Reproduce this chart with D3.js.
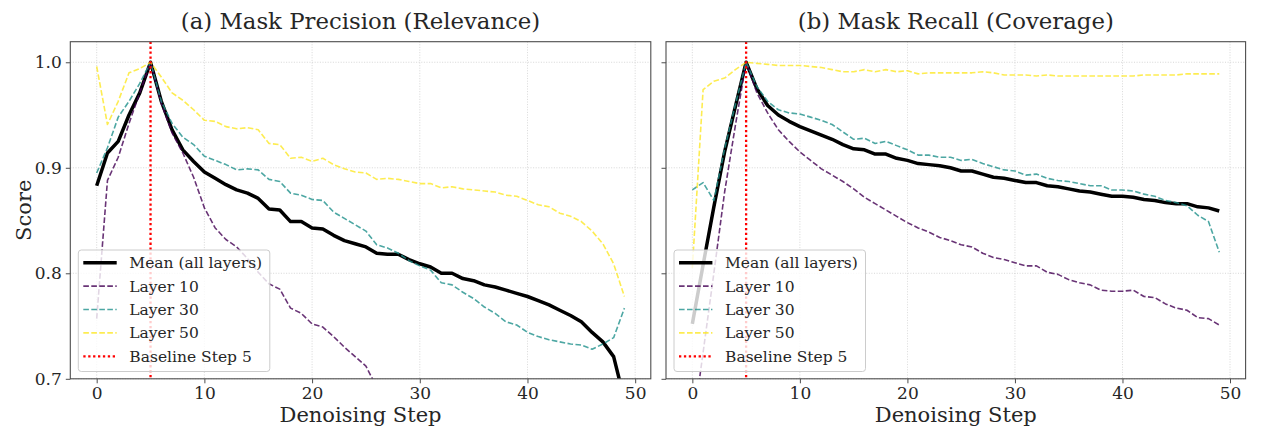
<!DOCTYPE html>
<html><head><meta charset="utf-8">
<script src="https://cdn.jsdelivr.net/npm/d3@7"></script>
<style>body{margin:0;background:#fff;} svg{display:block;font-family:"DejaVu Serif",serif;}</style>
</head><body>
<svg id="chart" width="1267" height="443"></svg>
<script>
// ---------- data ----------
const steps = [0,1,2,3,4,5,6,7,8,9,10,11,12,13,14,15,16,17,18,19,20,21,22,23,24,25,26,27,28,29,30,31,32,33,34,35,36,37,38,39,40,41,42,43,44,45,46,47,48,49];
const panelTitles = ["(a) Mask Precision (Relevance)", "(b) Mask Recall (Coverage)"];
const seriesNames = ["Mean (all layers)", "Layer 10", "Layer 30", "Layer 50"];
const baselineLabel = "Baseline Step 5";
const baselineStep = 5;
const xTicks = [0,10,20,30,40,50];
const yTicks = [0.7,0.8,0.9,1.0];
const yTickLabels = ["0.7","0.8","0.9","1.0"];

const precisionMean = [0.883,0.914,0.925,0.950,0.971,1.000,0.963,0.936,0.917,0.906,0.896,0.890,0.884,0.879,0.876,0.871,0.861,0.860,0.849,0.849,0.843,0.842,0.836,0.831,0.828,0.825,0.819,0.818,0.818,0.813,0.809,0.806,0.800,0.800,0.795,0.793,0.789,0.787,0.784,0.781,0.778,0.774,0.770,0.765,0.760,0.754,0.744,0.735,0.721,0.680];
const precisionL10 = [0.757,0.888,0.910,0.942,0.971,1.000,0.961,0.933,0.914,0.891,0.862,0.843,0.832,0.825,0.814,0.801,0.790,0.785,0.767,0.762,0.752,0.749,0.740,0.730,0.721,0.712,0.692];
const precisionL30 = [0.895,0.919,0.948,0.963,0.980,1.000,0.963,0.942,0.929,0.922,0.911,0.907,0.903,0.898,0.899,0.898,0.889,0.887,0.876,0.874,0.870,0.869,0.858,0.852,0.846,0.840,0.827,0.824,0.819,0.812,0.807,0.803,0.791,0.789,0.782,0.776,0.768,0.762,0.754,0.751,0.744,0.740,0.737,0.735,0.733,0.732,0.728,0.733,0.739,0.767];
const precisionL50 = [0.996,0.941,0.963,0.990,0.994,1.000,0.986,0.971,0.964,0.955,0.945,0.944,0.939,0.937,0.938,0.936,0.923,0.922,0.909,0.910,0.906,0.909,0.903,0.899,0.896,0.895,0.889,0.890,0.889,0.887,0.885,0.885,0.881,0.882,0.880,0.879,0.878,0.877,0.874,0.873,0.869,0.865,0.863,0.857,0.854,0.849,0.840,0.828,0.809,0.778];

const recallMean = [0.752,0.808,0.863,0.915,0.958,1.000,0.975,0.959,0.950,0.944,0.939,0.935,0.931,0.927,0.922,0.918,0.917,0.913,0.913,0.909,0.907,0.904,0.903,0.902,0.900,0.897,0.897,0.894,0.891,0.890,0.888,0.886,0.886,0.883,0.882,0.880,0.878,0.877,0.875,0.873,0.873,0.872,0.870,0.869,0.867,0.866,0.866,0.863,0.862,0.859];
const recallL10 = [0.650,0.725,0.800,0.877,0.940,1.000,0.971,0.952,0.936,0.925,0.915,0.907,0.899,0.893,0.887,0.880,0.872,0.866,0.860,0.854,0.848,0.843,0.839,0.834,0.831,0.827,0.825,0.819,0.815,0.813,0.810,0.807,0.807,0.801,0.799,0.794,0.791,0.789,0.784,0.783,0.783,0.784,0.778,0.777,0.771,0.767,0.765,0.758,0.757,0.751];
const recallL30 = [0.879,0.886,0.869,0.918,0.960,1.000,0.977,0.963,0.955,0.952,0.951,0.948,0.945,0.941,0.934,0.927,0.928,0.923,0.925,0.921,0.917,0.912,0.912,0.910,0.910,0.907,0.908,0.904,0.901,0.898,0.897,0.893,0.894,0.890,0.888,0.887,0.885,0.883,0.883,0.879,0.879,0.878,0.875,0.873,0.869,0.867,0.864,0.855,0.849,0.820];
const recallL50 = [0.805,0.974,0.982,0.985,0.993,1.000,0.999,0.998,0.997,0.997,0.997,0.996,0.995,0.993,0.991,0.991,0.993,0.991,0.993,0.991,0.992,0.989,0.990,0.990,0.990,0.990,0.990,0.991,0.990,0.988,0.988,0.988,0.987,0.988,0.987,0.987,0.987,0.987,0.987,0.987,0.987,0.987,0.988,0.988,0.988,0.988,0.989,0.989,0.989,0.989];

// ---------- styles ----------
const styles = [
  {color:"#000000", width:3.5, dash:null, opacity:1},
  {color:"#440154", width:1.6, dash:"5.6,2.4", opacity:0.8},
  {color:"#21918c", width:1.6, dash:"5.6,2.4", opacity:0.8},
  {color:"#fde725", width:1.6, dash:"5.6,2.4", opacity:0.8}
];
const panels = [
  {title:panelTitles[0], series:[precisionMean,precisionL10,precisionL30,precisionL50], x0:70.3, x1:650.8, yLabels:true},
  {title:panelTitles[1], series:[recallMean,recallL10,recallL30,recallL50], x0:666, x1:1245.6, yLabels:false}
];
const yTop = 41.7, yBottom = 378.8;
const svg = d3.select("#chart");
const textColor = "#262626", spineColor = "#4d4d4d";

panels.forEach((p, pi) => {
  const x = d3.scaleLinear().domain([-2.45, 51.45]).range([p.x0, p.x1]);
  const y = d3.scaleLinear().domain([0.7, 1.0195]).range([yBottom, yTop]);
  const g = svg.append("g");
  const clipId = "clip" + pi;
  svg.append("defs").append("clipPath").attr("id", clipId)
    .append("rect").attr("x", p.x0).attr("y", yTop).attr("width", p.x1 - p.x0).attr("height", yBottom - yTop);

  // grid
  const grid = g.append("g");
  grid.selectAll("line.vx").data(xTicks).join("line")
    .attr("x1", d => x(d)).attr("x2", d => x(d)).attr("y1", yTop).attr("y2", yBottom)
    .attr("stroke", "#b0b0b0").attr("stroke-width", 0.8).attr("stroke-dasharray", "1,1.6").attr("opacity", 0.6);
  grid.selectAll("line.hy").data(yTicks).join("line")
    .attr("x1", p.x0).attr("x2", p.x1).attr("y1", d => y(d)).attr("y2", d => y(d))
    .attr("stroke", "#b0b0b0").attr("stroke-width", 0.8).attr("stroke-dasharray", "1,1.6").attr("opacity", 0.6);

  // lines
  const plot = g.append("g").attr("clip-path", `url(#${clipId})`);
  const line = d3.line().x((d, i) => x(steps[i])).y(d => y(d));
  p.series.forEach((s, si) => {
    const st = styles[si];
    plot.append("path").datum(s).attr("d", line)
      .attr("fill", "none").attr("stroke", st.color).attr("stroke-width", st.width)
      .attr("stroke-opacity", st.opacity)
      .attr("stroke-linejoin", "round")
      .attr("stroke-dasharray", st.dash);
  });
  // baseline
  plot.append("line").attr("x1", x(baselineStep)).attr("x2", x(baselineStep))
    .attr("y1", yTop).attr("y2", yBottom)
    .attr("stroke", "#ff0000").attr("stroke-width", 2.3).attr("stroke-dasharray", "2.3,2.6");

  // axes
  const xAxis = d3.axisBottom(x).tickValues(xTicks).tickSize(4.5).tickPadding(4).tickFormat(d3.format("d"));
  const gx = g.append("g").attr("transform", `translate(0,${yBottom})`).call(xAxis);
  const yAxis = d3.axisLeft(y).tickValues(yTicks).tickSize(4.5).tickPadding(4)
    .tickFormat((d, i) => p.yLabels ? yTickLabels[i] : "");
  const gy = g.append("g").attr("transform", `translate(${p.x0},0)`).call(yAxis);
  [gx, gy].forEach(a => {
    a.select(".domain").remove();
    a.selectAll(".tick line").attr("stroke", spineColor).attr("stroke-width", 1);
    a.selectAll(".tick text").attr("fill", textColor).style("font-size", "17px").style("font-family", "DejaVu Serif");
  });
  // spines
  g.append("rect").attr("x", p.x0).attr("y", yTop).attr("width", p.x1 - p.x0).attr("height", yBottom - yTop)
    .attr("fill", "none").attr("stroke", spineColor).attr("stroke-width", 1.1);

  // title and labels
  g.append("text").attr("x", (p.x0 + p.x1) / 2).attr("y", 28.5).attr("text-anchor", "middle")
    .attr("fill", textColor).style("font-size", "22.8px").text(p.title);
  g.append("text").attr("x", (p.x0 + p.x1) / 2).attr("y", 422).attr("text-anchor", "middle")
    .attr("fill", textColor).style("font-size", "21px").text("Denoising Step");
  if (p.yLabels) {
    g.append("text").attr("transform", `translate(31,${(yTop + yBottom) / 2}) rotate(-90)`)
      .attr("text-anchor", "middle").attr("fill", textColor).style("font-size", "21px").text("Score");
  }

  // legend
  const lx = p.x0 + 8, ly = 250, lw = 191.5, lh = 121.5;
  const leg = g.append("g");
  leg.append("rect").attr("x", lx).attr("y", ly).attr("width", lw).attr("height", lh).attr("rx", 3)
    .attr("fill", "#ffffff").attr("fill-opacity", 0.8).attr("stroke", "#cccccc").attr("stroke-width", 1);
  const entries = seriesNames.map((n, i) => ({name:n, st:styles[i]}))
    .concat([{name:baselineLabel, st:{color:"#ff0000", width:2.3, dash:"2.3,2.6", opacity:1}}]);
  entries.forEach((e, i) => {
    const cy = ly + 12.7 + i * 23.4;
    leg.append("line").attr("x1", lx + 5).attr("x2", lx + 38.4).attr("y1", cy).attr("y2", cy)
      .attr("stroke", e.st.color).attr("stroke-width", e.st.width).attr("stroke-opacity", e.st.opacity)
      .attr("stroke-dasharray", e.st.dash);
    leg.append("text").attr("x", lx + 51).attr("y", cy).attr("dy", "0.35em")
      .attr("fill", textColor).style("font-size", "15.5px").text(e.name);
  });
});
</script>
</body></html>
